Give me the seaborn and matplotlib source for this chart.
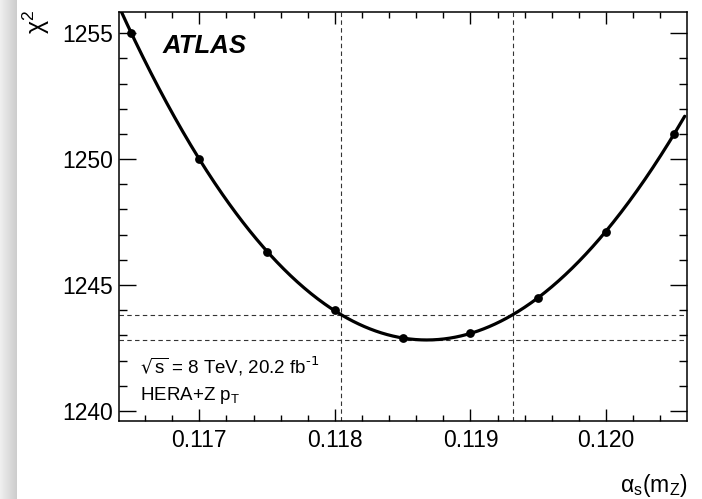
import numpy as np
import pandas as pd
import matplotlib
matplotlib.use("Agg")
import matplotlib.pyplot as plt
from matplotlib.ticker import MultipleLocator, FixedLocator
import seaborn as sns

# chi2 scan points versus alpha_s(mZ)
alpha_s = [0.1165, 0.1170, 0.1175, 0.1180, 0.1185, 0.1190, 0.1195, 0.1200, 0.1205]
chi2 = [1255.0, 1250.0, 1246.3, 1244.0, 1242.9, 1243.1, 1244.5, 1247.1, 1251.0]

x_major = [0.117, 0.118, 0.119, 0.120]
x_major_labels = ["0.117", "0.118", "0.119", "0.120"]
y_major = [1240, 1245, 1250, 1255]
y_major_labels = ["1240", "1245", "1250", "1255"]

sns.set_theme(style="ticks")
plt.rcParams["font.family"] = ["Liberation Sans", "DejaVu Sans"]
plt.rcParams["mathtext.fontset"] = "dejavusans"
plt.rcParams["text.color"] = "black"

df = pd.DataFrame({"alpha_s": alpha_s, "chi2": chi2})

# cubic fit to the scan, centred for numerical stability
x0 = 0.1185
coef = np.polyfit(np.array(alpha_s) - x0, np.array(chi2), 3)
fit = np.poly1d(coef)
xs = np.linspace(0.1164, 0.12058, 500)
curve = pd.DataFrame({"alpha_s": xs, "chi2": fit(xs - x0)})

dense = np.linspace(0.1175, 0.1195, 20001)
vals = fit(dense - x0)
i_min = np.argmin(vals)
chi2_min = vals[i_min]
lo = dense[:i_min][np.argmin(np.abs(vals[:i_min] - (chi2_min + 1)))]
hi = dense[i_min:][np.argmin(np.abs(vals[i_min:] - (chi2_min + 1)))]

fig = plt.figure(figsize=(7.02, 4.99), dpi=100)
fig.patch.set_facecolor("white")

# shaded strip along the left edge
strip = fig.add_axes([0, 0, 17 / 702, 1])
grad = np.linspace(0.94, 0.80, 64).reshape(1, -1)
strip.imshow(grad, cmap="gray", vmin=0, vmax=1, aspect="auto", extent=[0, 1, 0, 1])
strip.set_axis_off()

ax = fig.add_axes([119 / 702, 1 - 421 / 499, (687 - 119) / 702, (421 - 12.3) / 499])

dash = dict(color="#333333", lw=0.8, linestyle=(0, (4, 3)), zorder=1)
ax.axhline(chi2_min, **dash)
ax.axhline(chi2_min + 1, **dash)
ax.axvline(lo, **dash)
ax.axvline(hi, **dash)

sns.lineplot(data=curve, x="alpha_s", y="chi2", ax=ax, color="black", lw=2.3,
             sort=False, zorder=2)
sns.scatterplot(data=df, x="alpha_s", y="chi2", ax=ax, color="black", s=40,
                linewidth=0, zorder=3)

ax.set_xlim(0.116408, 0.120597)
ax.set_ylim(1239.6, 1255.83)
ax.set_xlabel("")
ax.set_ylabel("")

ax.xaxis.set_major_locator(FixedLocator(x_major))
ax.set_xticklabels(x_major_labels)
ax.xaxis.set_minor_locator(MultipleLocator(0.0002))
ax.yaxis.set_major_locator(FixedLocator(y_major))
ax.set_yticklabels(y_major_labels)
ax.yaxis.set_minor_locator(MultipleLocator(1))

ax.tick_params(which="both", direction="in", top=True, right=True, width=1.0,
               color="black", labelsize=16.5, labelcolor="black")
ax.tick_params(axis="x", which="major", length=8.6, pad=5.5)
ax.tick_params(axis="x", which="minor", length=4.3)
ax.tick_params(axis="y", which="major", length=12.2, pad=4.3)
ax.tick_params(axis="y", which="minor", length=5.8)
for s in ax.spines.values():
    s.set_linewidth(1.1)
    s.set_color("black")

ax.text(0.0775, 0.900, "ATLAS", transform=ax.transAxes, fontsize=18.5,
        fontweight="bold", fontstyle="italic", ha="left", va="baseline",
        color="black")
ax.text(0.037, 0.115, r"$\sqrt{\mathregular{s}}$ = 8 TeV, 20.2 fb$^{\text{-1}}$",
        transform=ax.transAxes, fontsize=13.5, ha="left", va="baseline",
        color="black")
ax.text(0.037, 0.051, r"HERA+Z p$_\mathregular{T}$",
        transform=ax.transAxes, fontsize=13.5, ha="left", va="baseline",
        color="black")

fig.text(688 / 702, 1 - 492 / 499, r"α$_\mathregular{s}$(m$_\mathregular{Z}$)",
         fontsize=16.5, ha="right", va="baseline", color="black")
fig.text(36 / 702, 1 - 22 / 499, r"χ$^\mathregular{2}$", fontsize=18,
         rotation=90, ha="center", va="center", color="black")

fig.savefig("out.png", dpi=100)
